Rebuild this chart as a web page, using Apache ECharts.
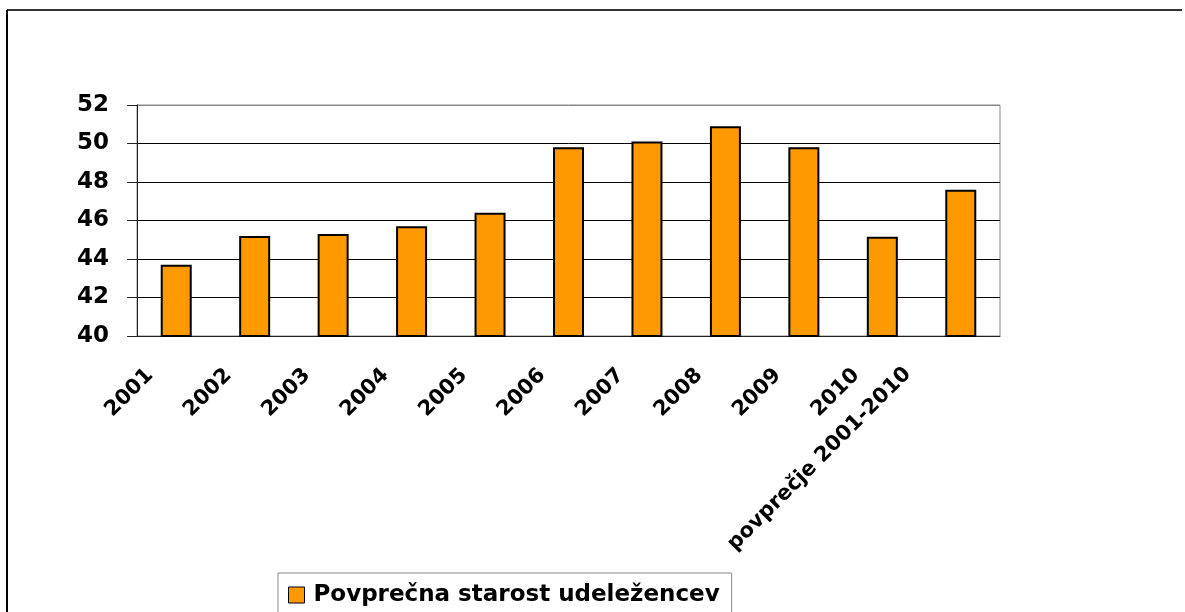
<!DOCTYPE html>
<html>
<head>
<meta charset="utf-8">
<script src="https://cdn.jsdelivr.net/npm/echarts@6/dist/echarts.min.js"></script>
<style>
html, body { margin: 0; padding: 0; background: #fff; }
#main { width: 1185px; height: 612px; }
</style>
</head>
<body>
<div id="main"></div>
<script>
const myChart = echarts.init(document.getElementById('main'));

const categories = ['2001', '2002', '2003', '2004', '2005', '2006', '2007', '2008', '2009', '2010', 'povprečje 2001-2010'];
const values = [43.7, 45.2, 45.3, 45.7, 46.4, 49.8, 50.1, 50.9, 49.8, 45.15, 47.6];
const seriesName = 'Povprečna starost udeležencev';

const font = 'DejaVu Sans';

const option = {
	animation: false,
	backgroundColor: '#fff',
	graphic: [
		{ type: 'line', shape: { x1: 7, y1: 10, x2: 1182, y2: 10 }, style: { stroke: '#333', lineWidth: 2 } },
		{ type: 'line', shape: { x1: 7, y1: 10, x2: 7, y2: 612 }, style: { stroke: '#000', lineWidth: 2 } }
	],
	grid: {
		left: 137,
		right: 185,
		top: 105,
		bottom: 276,
		show: true,
		borderColor: '#888',
		borderWidth: 1,
		containLabel: false
	},
	legend: {
		data: [seriesName],
		left: 278,
		top: 573,
		orient: 'horizontal',
		borderColor: '#888',
		borderWidth: 1,
		padding: [8, 12, 20, 10],
		itemWidth: 16,
		itemHeight: 16,
		icon: 'rect',
		itemStyle: { borderColor: '#000', borderWidth: 1 },
		textStyle: {
			fontFamily: font,
			fontWeight: 'bold',
			fontSize: 23,
			color: '#000',
			lineHeight: 28,
			padding: [0, 0, 0, 4]
		}
	},
	xAxis: {
		type: 'category',
		data: categories,
		axisLine: { lineStyle: { color: '#222', width: 1 } },
		axisTick: { length: 6, lineStyle: { color: '#444' } },
		axisLabel: {
			rotate: 45,
			margin: 10,
			interval: 0,
			fontFamily: font,
			fontWeight: 'bold',
			fontSize: 21,
			color: '#000',
			padding: [0, 37, 0, 0],
			// the last label sits further left and higher in the original
			formatter: function (value, index) {
				return index === categories.length - 1 ? '{last|' + value + '}' : value;
			},
			rich: {
				last: {
					fontFamily: font,
					fontWeight: 'bold',
					fontSize: 21,
					color: '#000',
					padding: [0, 18, 40, 0]
				}
			}
		}
	},
	yAxis: {
		type: 'value',
		min: 40,
		max: 52,
		interval: 2,
		axisLine: { show: true, lineStyle: { color: '#222', width: 1 } },
		axisTick: { show: true, length: 10, lineStyle: { color: '#222' } },
		axisLabel: {
			margin: 28,
			fontFamily: font,
			fontWeight: 'bold',
			fontSize: 23,
			color: '#000'
		},
		splitLine: {
			lineStyle: {
				color: ['#000', '#000', '#000', '#000', '#000', '#000', '#888'],
				width: 1
			}
		}
	},
	series: [
		{
			name: seriesName,
			type: 'bar',
			data: values,
			barWidth: 31,
			itemStyle: {
				color: '#FF9900',
				borderColor: '#000',
				borderWidth: 2
			}
		}
	]
};

myChart.setOption(option);
</script>
</body>
</html>
